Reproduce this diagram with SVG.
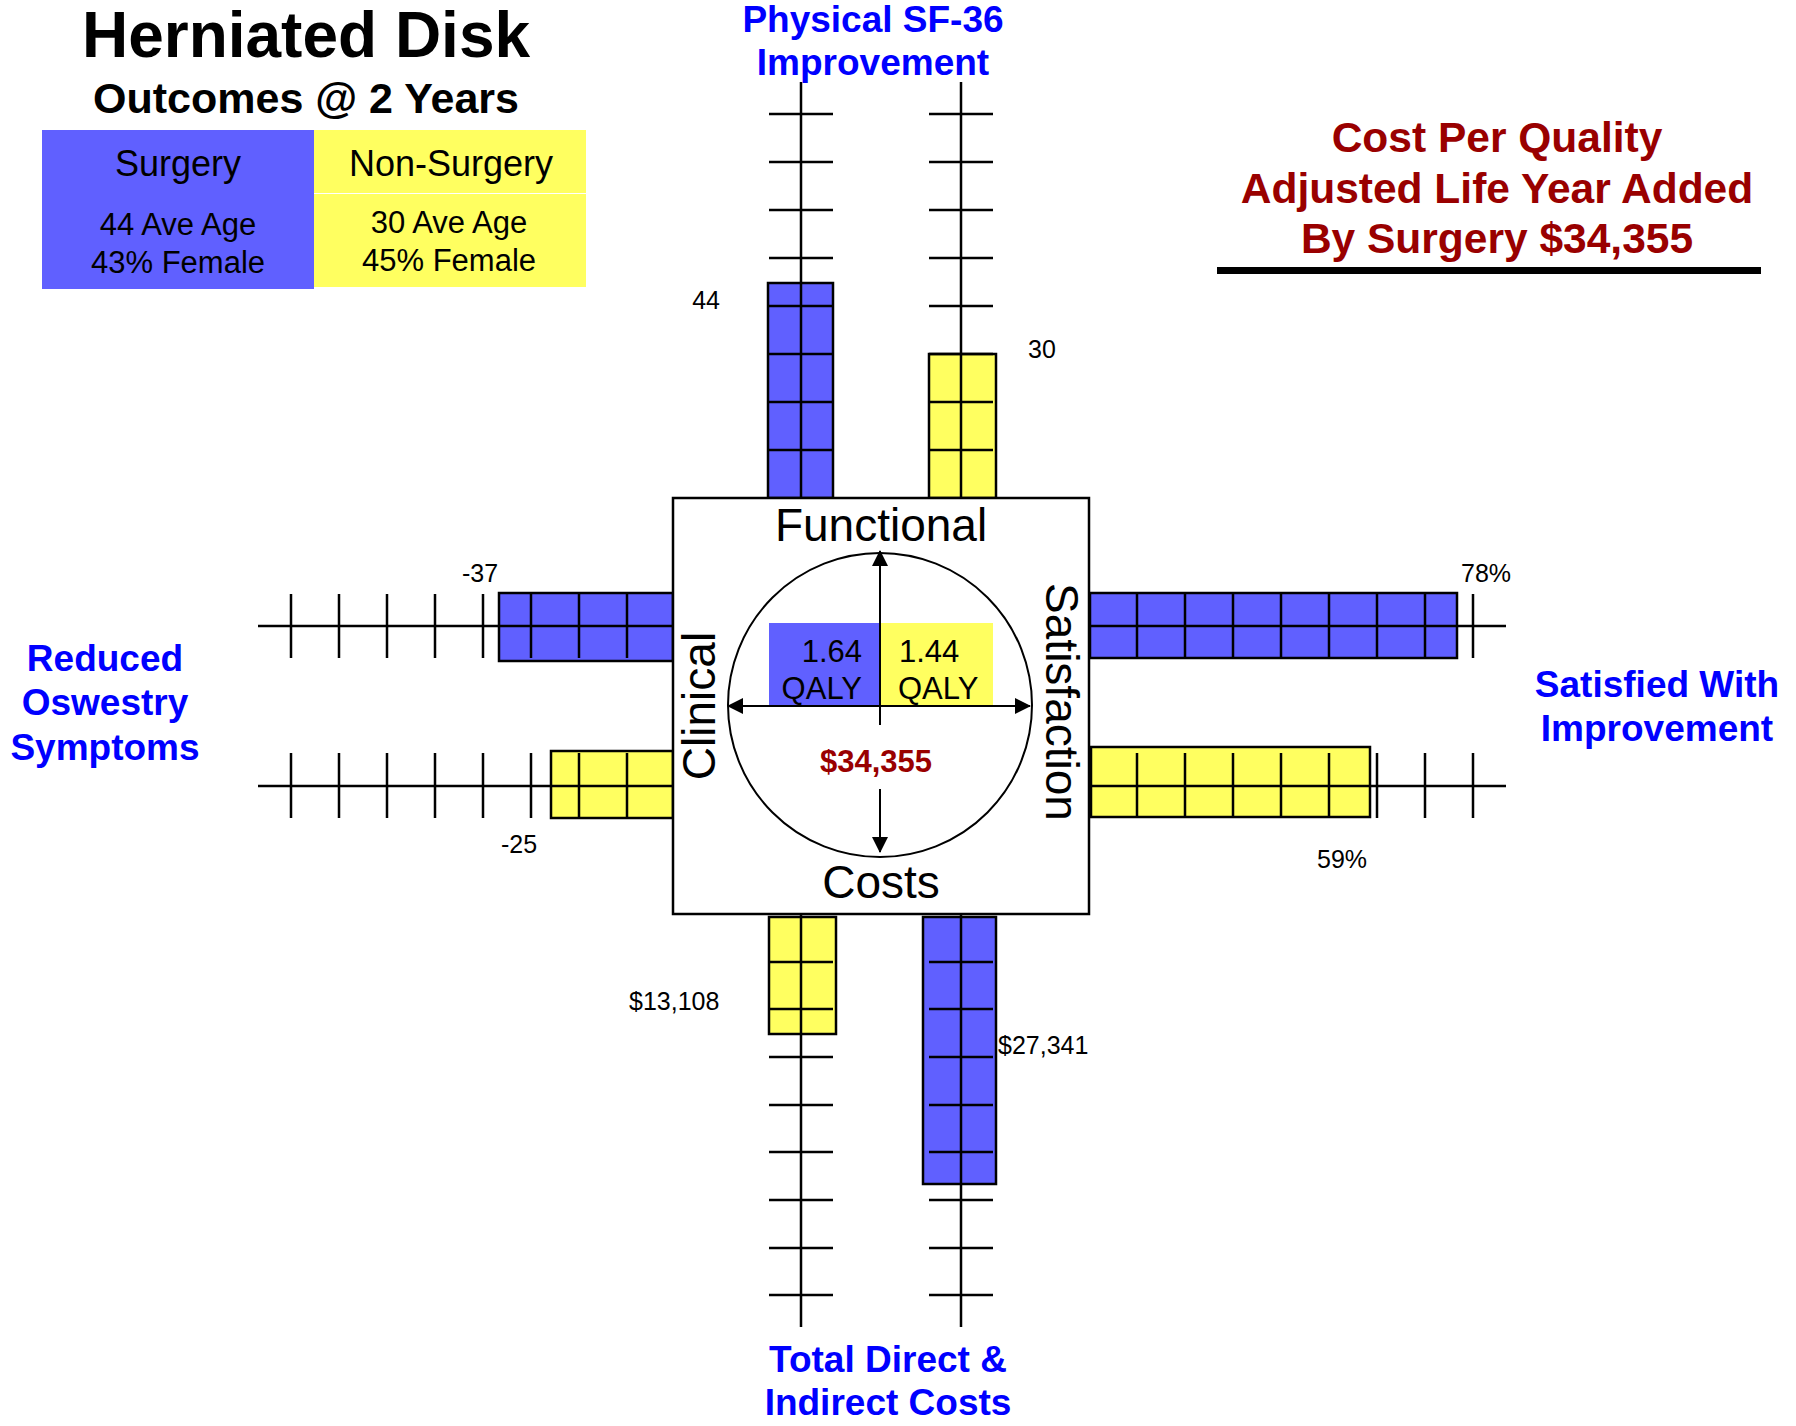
<svg xmlns="http://www.w3.org/2000/svg" width="1796" height="1426" viewBox="0 0 1796 1426">
<defs>
<style>
text{font-family:"Liberation Sans",Arial,sans-serif;fill:#000}
.b{font-weight:bold}
.lbl{font-weight:bold;font-size:37px;fill:#0000FF;text-anchor:middle}
.red{font-weight:bold;fill:#990000;text-anchor:middle}
.num{font-size:25px}
.mid{text-anchor:middle}
.end{text-anchor:end}
.blue{fill:#6060FF}
.yel{fill:#FFFF60}
.bar{stroke:#000;stroke-width:2.5}
.ax{stroke:#000;stroke-width:2.5;fill:none}
.thin{stroke:#000;stroke-width:2;fill:none}
</style>
<marker id="ah" viewBox="0 0 16 16" refX="15" refY="8" markerWidth="16" markerHeight="16" markerUnits="userSpaceOnUse" orient="auto-start-reverse">
<path d="M0,0 L16,8 L0,16 z" fill="#000"/>
</marker>
</defs>
<rect width="1796" height="1426" fill="#fff"/>

<g id="title">
<text class="b mid" x="306" y="57" font-size="64">Herniated Disk</text>
<text class="b mid" x="306" y="113" font-size="43">Outcomes @ 2 Years</text>
</g>

<g id="legend">
<rect class="blue" x="42" y="130" width="272" height="159"/>
<rect class="yel" x="314" y="130" width="272" height="63"/>
<rect class="yel" x="314" y="194" width="272" height="93"/>
<text class="mid" x="178" y="176" font-size="36">Surgery</text>
<text class="mid" x="451" y="176" font-size="36">Non-Surgery</text>
<text class="mid" x="178" y="235" font-size="31">44 Ave Age</text>
<text class="mid" x="178" y="273" font-size="31">43% Female</text>
<text class="mid" x="449" y="233" font-size="31">30 Ave Age</text>
<text class="mid" x="449" y="271" font-size="31">45% Female</text>
</g>

<g id="cost-note">
<text class="red" x="1497" y="152" font-size="42.5">Cost Per Quality</text>
<text class="red" x="1497" y="203" font-size="42.5">Adjusted Life Year Added</text>
<text class="red" x="1497" y="253" font-size="42.5">By Surgery $34,355</text>
<line x1="1217" y1="270.5" x2="1761" y2="270.5" stroke="#000" stroke-width="7"/>
</g>

<g id="functional-axis">
<text class="lbl" x="873" y="32">Physical SF-36</text>
<text class="lbl" x="873" y="75">Improvement</text>
<rect class="blue bar" x="768" y="283" width="65" height="215"/>
<rect class="yel bar" x="929" y="354" width="67" height="144"/>
<path class="ax" d="M801,82V498 M961,82V498"/>
<path class="ax" d="M769,114H833 M769,162H833 M769,210H833 M769,258H833 M769,306H833 M769,354H833 M769,402H833 M769,450H833"/>
<path class="ax" d="M929,114H993 M929,162H993 M929,210H993 M929,258H993 M929,306H993 M929,354H993 M929,402H993 M929,450H993"/>
<text class="num end" x="720" y="309">44</text>
<text class="num" x="1028" y="358">30</text>
</g>

<g id="clinical-axis">
<text class="lbl" x="105" y="671">Reduced</text>
<text class="lbl" x="105" y="715">Oswestry</text>
<text class="lbl" x="105" y="760">Symptoms</text>
<rect class="blue bar" x="499" y="593" width="174" height="68"/>
<rect class="yel bar" x="551" y="751" width="122" height="67"/>
<path class="ax" d="M258,626H673 M258,786H673"/>
<path class="ax" d="M291,594V658 M339,594V658 M387,594V658 M435,594V658 M483,594V658 M531,594V658 M579,594V658 M627,594V658"/>
<path class="ax" d="M291,753V818 M339,753V818 M387,753V818 M435,753V818 M483,753V818 M531,753V818 M579,753V818 M627,753V818"/>
<text class="num" x="462" y="582">-37</text>
<text class="num" x="501" y="853">-25</text>
</g>

<g id="satisfaction-axis">
<text class="lbl" x="1657" y="697">Satisfied With</text>
<text class="lbl" x="1657" y="741">Improvement</text>
<rect class="blue bar" x="1090" y="593" width="367" height="65"/>
<rect class="yel bar" x="1091" y="747" width="279" height="70"/>
<path class="ax" d="M1089,626H1506 M1089,786H1506"/>
<path class="ax" d="M1137,594V658 M1185,594V658 M1233,594V658 M1281,594V658 M1329,594V658 M1377,594V658 M1425,594V658 M1473,594V658"/>
<path class="ax" d="M1137,753V818 M1185,753V818 M1233,753V818 M1281,753V818 M1329,753V818 M1377,753V818 M1425,753V818 M1473,753V818"/>
<text class="num" x="1461" y="582">78%</text>
<text class="num" x="1317" y="868">59%</text>
</g>

<g id="costs-axis">
<text class="lbl" x="888" y="1372">Total Direct &amp;</text>
<text class="lbl" x="888" y="1415">Indirect Costs</text>
<rect class="yel bar" x="769" y="917" width="67" height="117"/>
<rect class="blue bar" x="923" y="917" width="73" height="267"/>
<path class="ax" d="M801,914V1327 M961,914V1327"/>
<path class="ax" d="M769,962H833 M769,1009H833 M769,1057H833 M769,1105H833 M769,1152H833 M769,1200H833 M769,1248H833 M769,1295H833"/>
<path class="ax" d="M929,962H993 M929,1009H993 M929,1057H993 M929,1105H993 M929,1152H993 M929,1200H993 M929,1248H993 M929,1295H993"/>
<text class="num" x="629" y="1010">$13,108</text>
<text class="num" x="998" y="1054">$27,341</text>
</g>

<g id="center-box">
<rect x="673" y="498" width="416" height="416" fill="#fff" stroke="#000" stroke-width="2.5"/>
<text class="mid" x="881" y="541" font-size="46">Functional</text>
<text class="mid" x="881" y="898" font-size="46">Costs</text>
<text class="mid" font-size="46" transform="translate(715,706) rotate(-90)">Clinical</text>
<text class="mid" font-size="46" transform="translate(1046,702) rotate(90)">Satisfaction</text>
</g>

<g id="qaly-circle">
<circle cx="880" cy="705" r="152" fill="none" stroke="#000" stroke-width="2"/>
<rect class="blue" x="769" y="623" width="112" height="83"/>
<rect class="yel" x="881" y="623" width="112" height="83"/>
<text class="end" x="862" y="662" font-size="31">1.64</text>
<text class="end" x="862" y="699" font-size="31">QALY</text>
<text x="899" y="662" font-size="31">1.44</text>
<text x="898" y="699" font-size="31">QALY</text>
<text class="red" x="876" y="772" font-size="31">$34,355</text>
</g>

<g id="connectors">
<path class="thin" d="M728,706H1030" marker-start="url(#ah)" marker-end="url(#ah)"/>
<path class="thin" d="M880,725V551" marker-end="url(#ah)"/>
<path class="thin" d="M880,789V852" marker-end="url(#ah)"/>
</g>
</svg>
